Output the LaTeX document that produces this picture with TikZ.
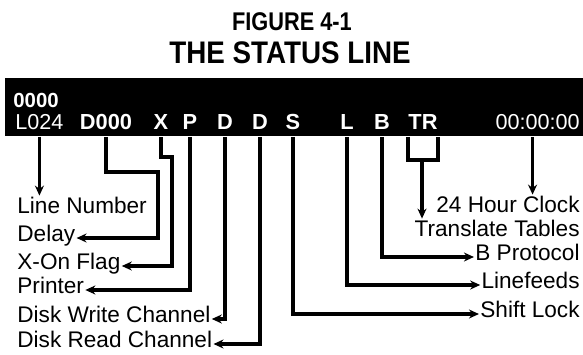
\documentclass[tikz,border=0pt]{standalone}
\usepackage{fontspec}
\setmainfont{Liberation Sans}
\newfontfamily\figfont[FakeStretch=0.85]{Liberation Sans}
\newfontfamily\headfont[FakeStretch=0.89]{Liberation Sans}
\usetikzlibrary{arrows.meta}

\begin{document}
\begin{tikzpicture}[x=0.5pt,y=-0.5pt,
  bartxt/.style={text=white, inner sep=0pt, font=\bfseries\fontsize{10.9}{12}\selectfont},
  barthin/.style={text=white, inner sep=0pt, font=\fontsize{10.8}{12}\selectfont},
  lbl/.style={inner sep=0.5pt, text height=8pt, font=\fontsize{11.3}{13}\selectfont},
  wire/.style={line width=1.7pt},
  con/.style={wire, -{Stealth[length=5pt,width=4.5pt]}}]
\useasboundingbox (0,0) rectangle (583,354);
% heading
\node[anchor=base, font=\figfont\bfseries\fontsize{12.8}{14}\selectfont] (fig) at (292,30) {FIGURE 4-1};
\node[anchor=base, font=\headfont\bfseries\fontsize{15.6}{17}\selectfont] (ttl) at (290,63) {THE STATUS LINE};
% the status line
\node[fill=black, inner sep=0pt, minimum width=289pt, minimum height=29pt, anchor=north west] (bar) at (5,78) {};
\node[bartxt, anchor=base west, font=\bfseries\fontsize{10.2}{12}\selectfont] (cnt) at (13,107) {0000};
\node[barthin, anchor=base west] (l024) at (15,129) {L024};
\node[bartxt, anchor=base] (d000) at (106,129) {D000};
\node[bartxt, anchor=base] (xf) at (161,129) {X};
\node[bartxt, anchor=base] (pr) at (190,129) {P};
\node[bartxt, anchor=base] (dw) at (225,129) {D};
\node[bartxt, anchor=base] (dr) at (260,129) {D};
\node[bartxt, anchor=base] (sh) at (293,129) {S};
\node[bartxt, anchor=base] (lf) at (347,129) {L};
\node[bartxt, anchor=base] (bp) at (382,129) {B};
\node[bartxt, anchor=base] (tr) at (423,129) {TR};
\node[barthin, anchor=base east] (clk) at (580,129) {00:00:00};
% left labels
\node[lbl, anchor=base west] (lnum) at (16,213) {Line Number};
\node[lbl, anchor=base west] (dly) at (16,241) {Delay};
\node[lbl, anchor=base west] (xonf) at (16,269) {X-On Flag};
\node[lbl, anchor=base west] (prn) at (16,293) {Printer};
\node[lbl, anchor=base west] (dwc) at (16,322) {Disk Write Channel};
\node[lbl, anchor=base west] (drc) at (16,347) {Disk Read Channel};
% right labels
\node[lbl, anchor=base east] (hclk) at (581,212) {24 Hour Clock};
\node[lbl, anchor=base east] (ttab) at (581,236) {Translate Tables};
\node[lbl, anchor=base east] (bpro) at (581,260) {B Protocol};
\node[lbl, anchor=base east] (lfd) at (581,288) {Linefeeds};
\node[lbl, anchor=base east] (shl) at (581,317) {Shift Lock};
% connectors
\draw[con] (l024 |- bar.south) -- (l024 |- lnum.north);
\draw[con] (d000 |- bar.south) |- (158,172) |- ([yshift=1.5pt]dly.base east);
\draw[con] (xf |- bar.south) |- (172,157) |- ([yshift=1.5pt]xonf.base east);
\draw[con] (pr |- bar.south) |- ([yshift=1.5pt]prn.base east);
\draw[con] (dw |- bar.south) |- ([yshift=1.5pt]dwc.base east);
\draw[con] (dr |- bar.south) |- ([yshift=1.5pt]drc.base east);
\draw[con] (sh |- bar.south) |- ([yshift=1.5pt]shl.base west);
\draw[con] (lf |- bar.south) |- ([yshift=1.5pt]lfd.base west);
\draw[con] (bp |- bar.south) |- ([yshift=1.5pt]bpro.base west);
\coordinate (trb) at (422,160);
\draw[wire] (tr.west |- bar.south) |- (trb) -| (tr.east |- bar.south);
\draw[con] (trb) -- (trb |- ttab.north);
\draw[con] ([xshift=-2.5pt]clk |- bar.south) -- ([xshift=-2.5pt]clk |- hclk.north);
\end{tikzpicture}
\end{document}
